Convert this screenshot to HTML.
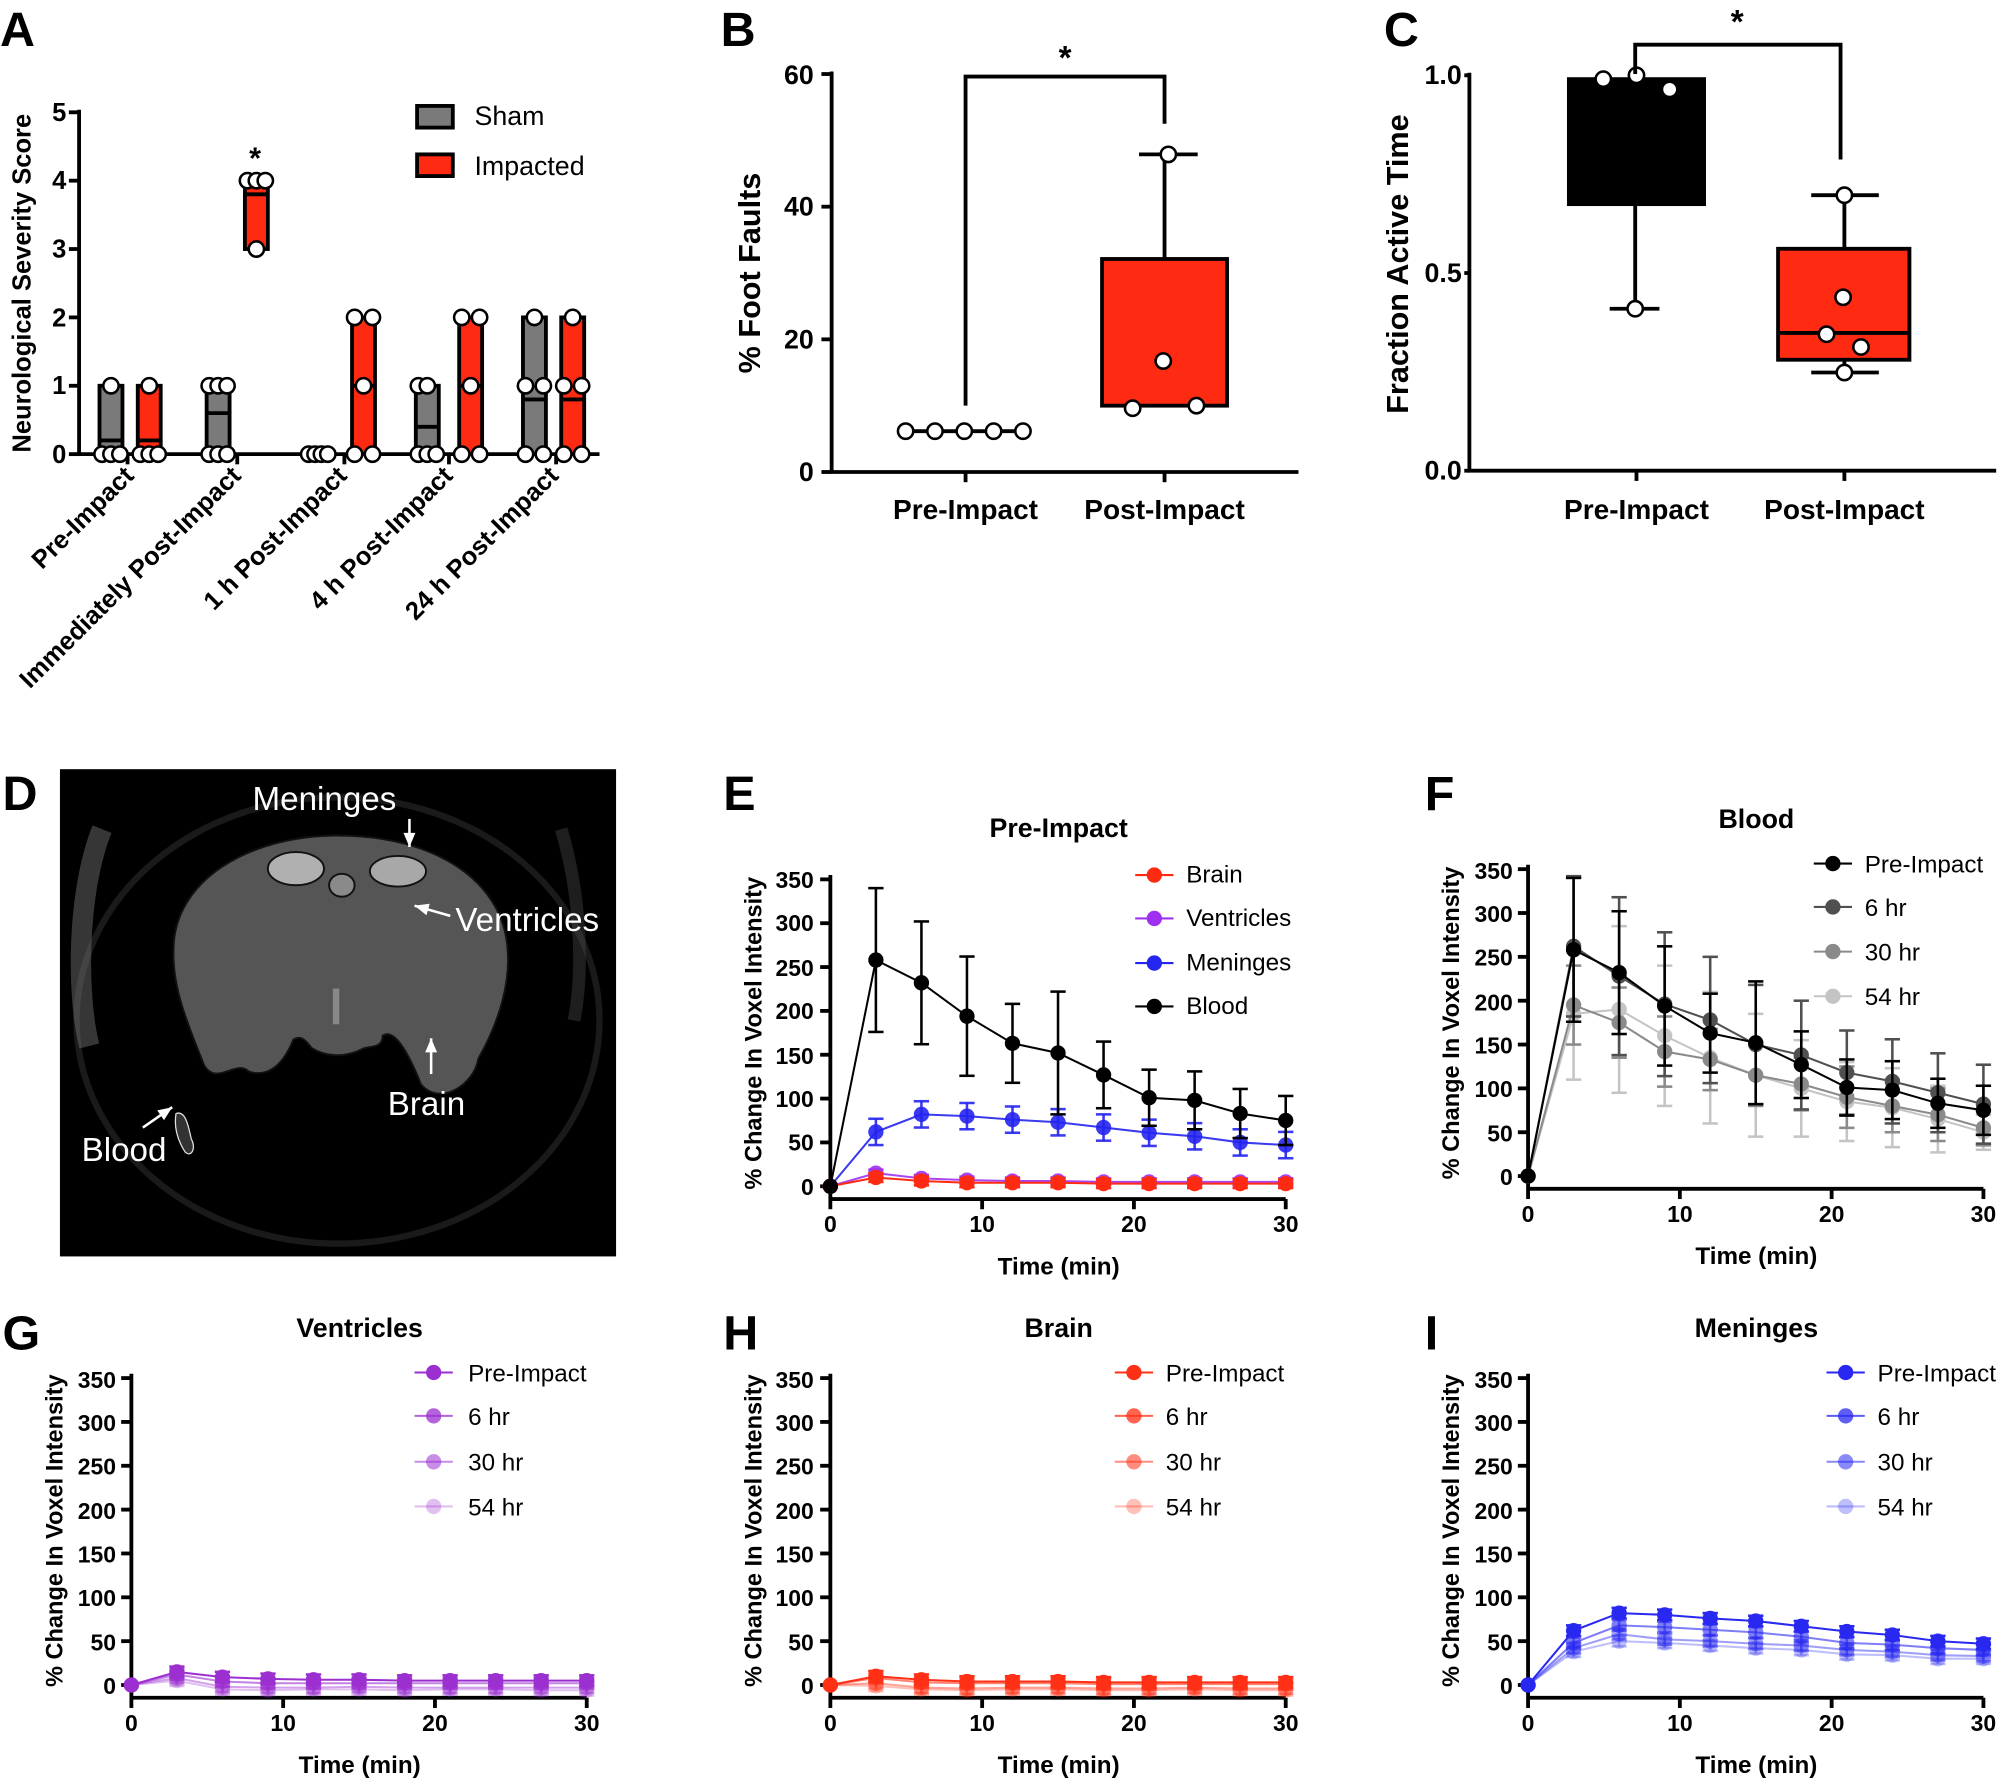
<!DOCTYPE html>
<html><head><meta charset="utf-8"><style>
html,body{margin:0;padding:0;background:#fff;}
svg{display:block;font-family:"Liberation Sans",Arial,sans-serif;}
.b{font-weight:bold;}
</style></head><body>
<svg id="s" width="2000" height="1782" viewBox="0 0 1568 1397" xmlns="http://www.w3.org/2000/svg">
<g id="g"></g>
<g class="b" font-size="38">
<text x="0" y="36">A</text><text x="565" y="36">B</text><text x="1085" y="36">C</text>
<text x="2" y="635">D</text><text x="567" y="635">E</text><text x="1117" y="635">F</text>
<text x="2" y="1058">G</text><text x="567" y="1058">H</text><text x="1117" y="1058">I</text>
</g>
<!-- Panel A text -->
<g class="b" font-size="20" text-anchor="end">
<text x="52" y="363">0</text><text x="52" y="309">1</text><text x="52" y="256">2</text><text x="52" y="202">3</text><text x="52" y="148">4</text><text x="52" y="95">5</text>
</g>
<text class="b" font-size="20" transform="translate(24,222) rotate(-90)" text-anchor="middle">Neurological Severity Score</text>
<g class="b" font-size="20" text-anchor="end">
<text transform="translate(106,374) rotate(-45)">Pre-Impact</text>
<text transform="translate(190,374) rotate(-45)">Immediately Post-Impact</text>
<text transform="translate(273,374) rotate(-45)">1 h Post-Impact</text>
<text transform="translate(356,374) rotate(-45)">4 h Post-Impact</text>
<text transform="translate(439,374) rotate(-45)">24 h Post-Impact</text>
</g>
<text class="b" font-size="24" x="200" y="132" text-anchor="middle">*</text>
<g font-size="21"><text x="372" y="98">Sham</text><text x="372" y="137">Impacted</text></g>
<!-- Panel B text -->
<g class="b" font-size="21" text-anchor="end">
<text x="638" y="377">0</text><text x="638" y="273">20</text><text x="638" y="169">40</text><text x="638" y="66">60</text>
</g>
<text class="b" font-size="24" transform="translate(596,214) rotate(-90)" text-anchor="middle">% Foot Faults</text>
<g class="b" font-size="22" text-anchor="middle"><text x="757" y="407">Pre-Impact</text><text x="913" y="407">Post-Impact</text></g>
<text class="b" font-size="26" x="835" y="54" text-anchor="middle">*</text>
<!-- Panel C text -->
<g class="b" font-size="21" text-anchor="end">
<text x="1146" y="376">0.0</text><text x="1146" y="221">0.5</text><text x="1146" y="66">1.0</text>
</g>
<text class="b" font-size="24" transform="translate(1104,207) rotate(-90)" text-anchor="middle">Fraction Active Time</text>
<g class="b" font-size="22" text-anchor="middle"><text x="1283" y="407">Pre-Impact</text><text x="1446" y="407">Post-Impact</text></g>
<text class="b" font-size="26" x="1362" y="26" text-anchor="middle">*</text>
<!-- Panel D text -->
<g fill="#fff" font-size="26">
<text x="198" y="635">Meninges</text><text x="357" y="730">Ventricles</text><text x="304" y="874">Brain</text><text x="64" y="910">Blood</text>
</g>
<!-- Line chart texts -->
<g class="b" font-size="21" text-anchor="middle">
<text x="830" y="656">Pre-Impact</text><text x="1377" y="649">Blood</text>
<text x="282" y="1048">Ventricles</text><text x="830" y="1048">Brain</text><text x="1377" y="1048">Meninges</text>
</g>
<g class="b" font-size="18.5" text-anchor="middle">
<text transform="translate(597,810) rotate(-90)">% Change In Voxel Intensity</text>
<text transform="translate(1144,802) rotate(-90)">% Change In Voxel Intensity</text>
<text transform="translate(49,1200) rotate(-90)">% Change In Voxel Intensity</text>
<text transform="translate(597,1200) rotate(-90)">% Change In Voxel Intensity</text>
<text transform="translate(1144,1200) rotate(-90)">% Change In Voxel Intensity</text>
</g>
<g class="b" font-size="18" text-anchor="end">
<text x="638" y="937">0</text><text x="638" y="902">50</text><text x="638" y="868">100</text><text x="638" y="834">150</text><text x="638" y="799">200</text><text x="638" y="765">250</text><text x="638" y="730">300</text><text x="638" y="696">350</text>
<text x="1186" y="929">0</text><text x="1186" y="895">50</text><text x="1186" y="860">100</text><text x="1186" y="826">150</text><text x="1186" y="792">200</text><text x="1186" y="757">250</text><text x="1186" y="723">300</text><text x="1186" y="689">350</text>
<text x="91" y="1328">0</text><text x="91" y="1294">50</text><text x="91" y="1259">100</text><text x="91" y="1225">150</text><text x="91" y="1191">200</text><text x="91" y="1156">250</text><text x="91" y="1122">300</text><text x="91" y="1088">350</text>
<text x="638" y="1328">0</text><text x="638" y="1294">50</text><text x="638" y="1259">100</text><text x="638" y="1225">150</text><text x="638" y="1191">200</text><text x="638" y="1156">250</text><text x="638" y="1122">300</text><text x="638" y="1088">350</text>
<text x="1186" y="1328">0</text><text x="1186" y="1294">50</text><text x="1186" y="1259">100</text><text x="1186" y="1225">150</text><text x="1186" y="1191">200</text><text x="1186" y="1156">250</text><text x="1186" y="1122">300</text><text x="1186" y="1088">350</text>
</g>
<g class="b" font-size="18" text-anchor="middle">
<text x="651" y="966">0</text><text x="770" y="966">10</text><text x="889" y="966">20</text><text x="1008" y="966">30</text>
<text x="1198" y="958">0</text><text x="1317" y="958">10</text><text x="1436" y="958">20</text><text x="1555" y="958">30</text>
<text x="103" y="1357">0</text><text x="222" y="1357">10</text><text x="341" y="1357">20</text><text x="460" y="1357">30</text>
<text x="651" y="1357">0</text><text x="770" y="1357">10</text><text x="889" y="1357">20</text><text x="1008" y="1357">30</text>
<text x="1198" y="1357">0</text><text x="1317" y="1357">10</text><text x="1436" y="1357">20</text><text x="1555" y="1357">30</text>
</g>
<g class="b" font-size="19" text-anchor="middle">
<text x="830" y="999">Time (min)</text><text x="1377" y="991">Time (min)</text>
<text x="282" y="1390">Time (min)</text><text x="830" y="1390">Time (min)</text><text x="1377" y="1390">Time (min)</text>
</g>
<g font-size="19">
<text x="930" y="692">Brain</text><text x="930" y="726">Ventricles</text><text x="930" y="761">Meninges</text><text x="930" y="795">Blood</text>
<text x="1462" y="684">Pre-Impact</text><text x="1462" y="718">6 hr</text><text x="1462" y="753">30 hr</text><text x="1462" y="788">54 hr</text>
<text x="367" y="1083">Pre-Impact</text><text x="367" y="1117">6 hr</text><text x="367" y="1153">30 hr</text><text x="367" y="1188">54 hr</text>
<text x="914" y="1083">Pre-Impact</text><text x="914" y="1117">6 hr</text><text x="914" y="1153">30 hr</text><text x="914" y="1188">54 hr</text>
<text x="1472" y="1083">Pre-Impact</text><text x="1472" y="1117">6 hr</text><text x="1472" y="1153">30 hr</text><text x="1472" y="1188">54 hr</text>
</g>
</svg>
<script>
var g=document.getElementById('g'),NS='http://www.w3.org/2000/svg';
function el(t,a){var e=document.createElementNS(NS,t);for(var k in a)e.setAttribute(k,a[k]);g.appendChild(e);return e;}
function L(x1,y1,x2,y2,c,w,o){el('line',{x1:x1,y1:y1,x2:x2,y2:y2,stroke:c||'#000','stroke-width':w||3,opacity:o==null?1:o});}
function C(x,y,r,f,s,w,o){el('circle',{cx:x,cy:y,r:r,fill:f,stroke:s||'none','stroke-width':w||0,opacity:o==null?1:o});}
function R(x,y,w,h,f,s,sw){el('rect',{x:x,y:y,width:w,height:h,fill:f,stroke:s||'none','stroke-width':sw||0});}
// Panel A
var ay=function(v){return 356-53.6*v;};
L(62,86,62,357,'#000',3);L(61,356,470,356,'#000',3);
for(var i=0;i<=5;i++)L(54,ay(i),62,ay(i),'#000',3);
[100,186,270,352,436].forEach(function(x){L(x,356,x,364,'#000',3);});
function bar(x,lo,hi,med,col,dots){R(x,ay(hi),18,ay(lo)-ay(hi),col,'#000',3);L(x,ay(med),x+18,ay(med),'#000',3);
 dots.forEach(function(d){C(x+d[0],ay(d[1]),6,'#fff','#000',2);});}
var GR='#7a7a7a',RD='#ff2a12';
bar(78,0,1,0.2,GR,[[2,0],[9,0],[16,0],[9,1]]);
bar(108,0,1,0.2,RD,[[2,0],[9,0],[16,0],[9,1]]);
bar(162,0,1,0.6,GR,[[2,0],[9,0],[16,0],[2,1],[9,1],[16,1]]);
bar(192,3,4,3.8,RD,[[9,3],[2,4],[9,4],[16,4]]);
[242,247,252,257].forEach(function(x){C(x,356,6,'#fff','#000',2);});
bar(276,0,2,1,RD,[[2,0],[16,0],[9,1],[2,2],[16,2]]);
bar(326,0,1,0.4,GR,[[2,0],[9,0],[16,0],[2,1],[9,1]]);
bar(360,0,2,1,RD,[[2,0],[16,0],[9,1],[2,2],[16,2]]);
bar(410,0,2,0.8,GR,[[2,0],[16,0],[2,1],[16,1],[9,2]]);
bar(440,0,2,0.8,RD,[[2,0],[16,0],[2,1],[16,1],[9,2]]);
R(327,83,28,17,GR,'#000',3);R(327,121,28,17,RD,'#000',3);
// Panel B
var by=function(v){return 370-5.2*v;};
L(652,56,652,371,'#000',3);L(651,370,1018,370,'#000',3);
[0,20,40,60].forEach(function(v){L(644,by(v),652,by(v));});
[757,913].forEach(function(x){L(x,370,x,378);});
L(710,338,802,338);[710,733,756,779,802].forEach(function(x){C(x,338,6,'#fff','#000',2);});
L(913,121,913,203);L(893,121,939,121);
R(864,203,98,115,RD,'#000',3);
[[916,121],[912,283],[888,320],[938,318]].forEach(function(d){C(d[0],d[1],6,'#fff','#000',2);});
el('polyline',{points:'757,318 757,60 913,60 913,97',fill:'none',stroke:'#000','stroke-width':3});
// Panel C
var cy=function(v){return 369-310*v;};
L(1152,57,1152,370);L(1151,369,1565,369);
[0,0.5,1].forEach(function(v){L(1148,cy(v),1152,cy(v));});
[1283,1446].forEach(function(x){L(x,369,x,377);});
L(1282,160,1282,242);L(1262,242,1301,242);
R(1230,62,106,98,'#000','#000',3);
L(1446,153,1446,195);L(1420,153,1473,153);L(1446,282,1446,292);L(1420,292,1473,292);
R(1394,195,103,87,RD,'#000',3);L(1394,261,1497,261);
[[1257,62],[1283,59],[1309,70],[1282,242],[1446,153],[1445,233],[1432,262],[1459,272],[1446,292]].forEach(function(d){C(d[0],d[1],6,'#fff','#000',2);});
el('polyline',{points:'1282,58 1282,35 1443,35 1443,125',fill:'none',stroke:'#000','stroke-width':3});
// Panel D image
R(47,603,436,382,'#000');
el('ellipse',{cx:265,cy:800,rx:205,ry:175,fill:'none',stroke:'#1a1a1a','stroke-width':5});
el('path',{d:'M80,650 C60,700 60,780 70,820',fill:'none',stroke:'#777','stroke-width':16,opacity:0.45});
el('path',{d:'M440,650 C455,700 458,760 450,800',fill:'none',stroke:'#555','stroke-width':10,opacity:0.35});
el('path',{d:'M136,745 C136,690 195,655 265,655 C340,655 395,690 398,745 C400,770 392,800 375,830 C372,850 345,868 330,850 C322,830 310,805 300,812 C300,822 290,820 285,822 C270,830 255,828 245,822 C242,820 238,810 230,815 C222,835 210,845 195,840 C185,830 170,852 160,835 C148,805 135,775 136,745 Z',fill:'#555',stroke:'#111','stroke-width':1.5});
el('ellipse',{cx:232,cy:681,rx:22,ry:13,fill:'#b0b0b0',stroke:'#111','stroke-width':1.5});
el('ellipse',{cx:312,cy:683,rx:22,ry:12,fill:'#a8a8a8',stroke:'#111','stroke-width':1.5});
el('ellipse',{cx:268,cy:694,rx:10,ry:9,fill:'#8a8a8a',stroke:'#111','stroke-width':1.5});
R(261,775,5,28,'#888');
el('path',{d:'M138,873 C146,870 148,885 150,893 C154,900 150,908 145,903 C140,895 136,885 138,873Z',fill:'#333',stroke:'#ddd','stroke-width':1});
function arr(x1,y1,x2,y2){L(x1,y1,x2,y2,'#fff',2);var a=Math.atan2(y2-y1,x2-x1),s=12;
 el('polygon',{points:x2+','+y2+' '+(x2-s*Math.cos(a-0.4))+','+(y2-s*Math.sin(a-0.4))+' '+(x2-s*Math.cos(a+0.4))+','+(y2-s*Math.sin(a+0.4)),fill:'#fff'});}
arr(321,642,321,664);arr(353,718,325,710);arr(338,842,338,814);arr(112,884,135,868);
// line charts
function chart(ox,oy0,series,legend){
 var ys=function(v){return oy0-v*0.6875;}, xs=function(t){return ox+t*11.9;};
 L(ox,ys(355),ox,oy0+10);L(ox-1,oy0+10,ox+357,oy0+10);
 for(var v=0;v<=350;v+=50)L(ox-8,ys(v),ox,ys(v));
 for(var t=0;t<=30;t+=10)L(xs(t),oy0+10,xs(t),oy0+18);
 series.forEach(function(s){var pts=s.d.map(function(v,i){return xs(i*3)+','+ys(v);}).join(' ');
  s.d.forEach(function(v,i){if(i&&s.e){var e=s.e[i]!=null?s.e[i]:s.e[0];var x=xs(i*3);
    L(x,ys(v-e),x,ys(v+e),s.c,2,s.o);L(x-6,ys(v-e),x+6,ys(v-e),s.c,2,s.o);L(x-6,ys(v+e),x+6,ys(v+e),s.c,2,s.o);}});
  el('polyline',{points:pts,fill:'none',stroke:s.c,'stroke-width':1.6,opacity:s.o});
  s.d.forEach(function(v,i){C(xs(i*3),ys(v),6,s.c,null,0,s.o);});});
 legend.forEach(function(l){L(l.x,l.y,l.x+30,l.y,l.c,1.6,l.o);C(l.x+15,l.y,6,l.c,null,0,l.o);});
}
var blood=[0,258,232,194,163,152,127,101,98,83,75],bE=[0,82,70,68,45,70,38,32,33,28,28];
var men=[0,62,82,80,76,73,67,61,57,50,47];
chart(651,930,[
 {d:men,e:[15],c:'#2525f0',o:0.9},
 {d:[0,15,9,7,6,6,5,5,5,5,5],e:[4],c:'#a030f0',o:0.9},
 {d:[0,10,6,4,4,4,3,3,3,3,3],e:[5],c:'#ff2a12',o:1},
 {d:blood,e:bE,c:'#000',o:1}],
 [{x:890,y:686,c:'#ff2a12'},{x:890,y:720,c:'#a030f0'},{x:890,y:755,c:'#2525f0'},{x:890,y:789,c:'#000'}]);
chart(1198,922,[
 {d:[0,185,190,160,135,115,100,85,78,65,50],e:[0,75,95,80,75,70,55,45,45,38,20],c:'#c4c4c4',o:1},
 {d:[0,195,175,142,133,115,105,90,80,70,55],e:[0,45,40,40,35,35,30,35,30,30,20],c:'#8a8a8a',o:1},
 {d:[0,262,228,196,178,150,138,118,108,95,82],e:[0,80,90,82,72,68,62,48,48,45,45],c:'#505050',o:1},
 {d:blood,e:bE,c:'#000',o:1}],
 [{x:1422,y:677,c:'#000'},{x:1422,y:711,c:'#505050'},{x:1422,y:746,c:'#8a8a8a'},{x:1422,y:781,c:'#c4c4c4'}]);
function fam(ox,base,col,lx,lowvals){
 var s=[0.3,0.45,0.6,1].map(function(o,k){return {d:lowvals[3-k],e:[6],c:col,o:o};});
 chart(ox,1321,s,[1076,1110,1146,1181].map(function(y,k){return {x:lx,y:y,c:col,o:[1,0.75,0.55,0.3][k]};}));}
fam(103,0,'#9b2fd0',325,[[0,15,9,7,6,6,5,5,5,5,5],[0,12,4,2,2,2,2,2,2,2,2],[0,8,-2,-3,-3,-2,-3,-3,-3,-3,-3],[0,5,-5,-6,-5,-5,-6,-5,-5,-6,-6]]);
fam(651,0,'#ff3015',874,[[0,10,6,4,4,4,3,3,3,3,3],[0,8,3,2,2,2,1,1,1,1,1],[0,2,-3,-4,-3,-3,-4,-4,-3,-4,-4],[0,-1,-5,-6,-5,-5,-6,-6,-5,-6,-6]]);
fam(1198,0,'#2828f0',1432,[men,[0,48,68,66,63,60,55,48,46,42,40],[0,42,58,52,50,47,45,40,38,34,33],[0,38,50,48,45,42,40,35,34,30,30]]);
</script>
</body></html>
